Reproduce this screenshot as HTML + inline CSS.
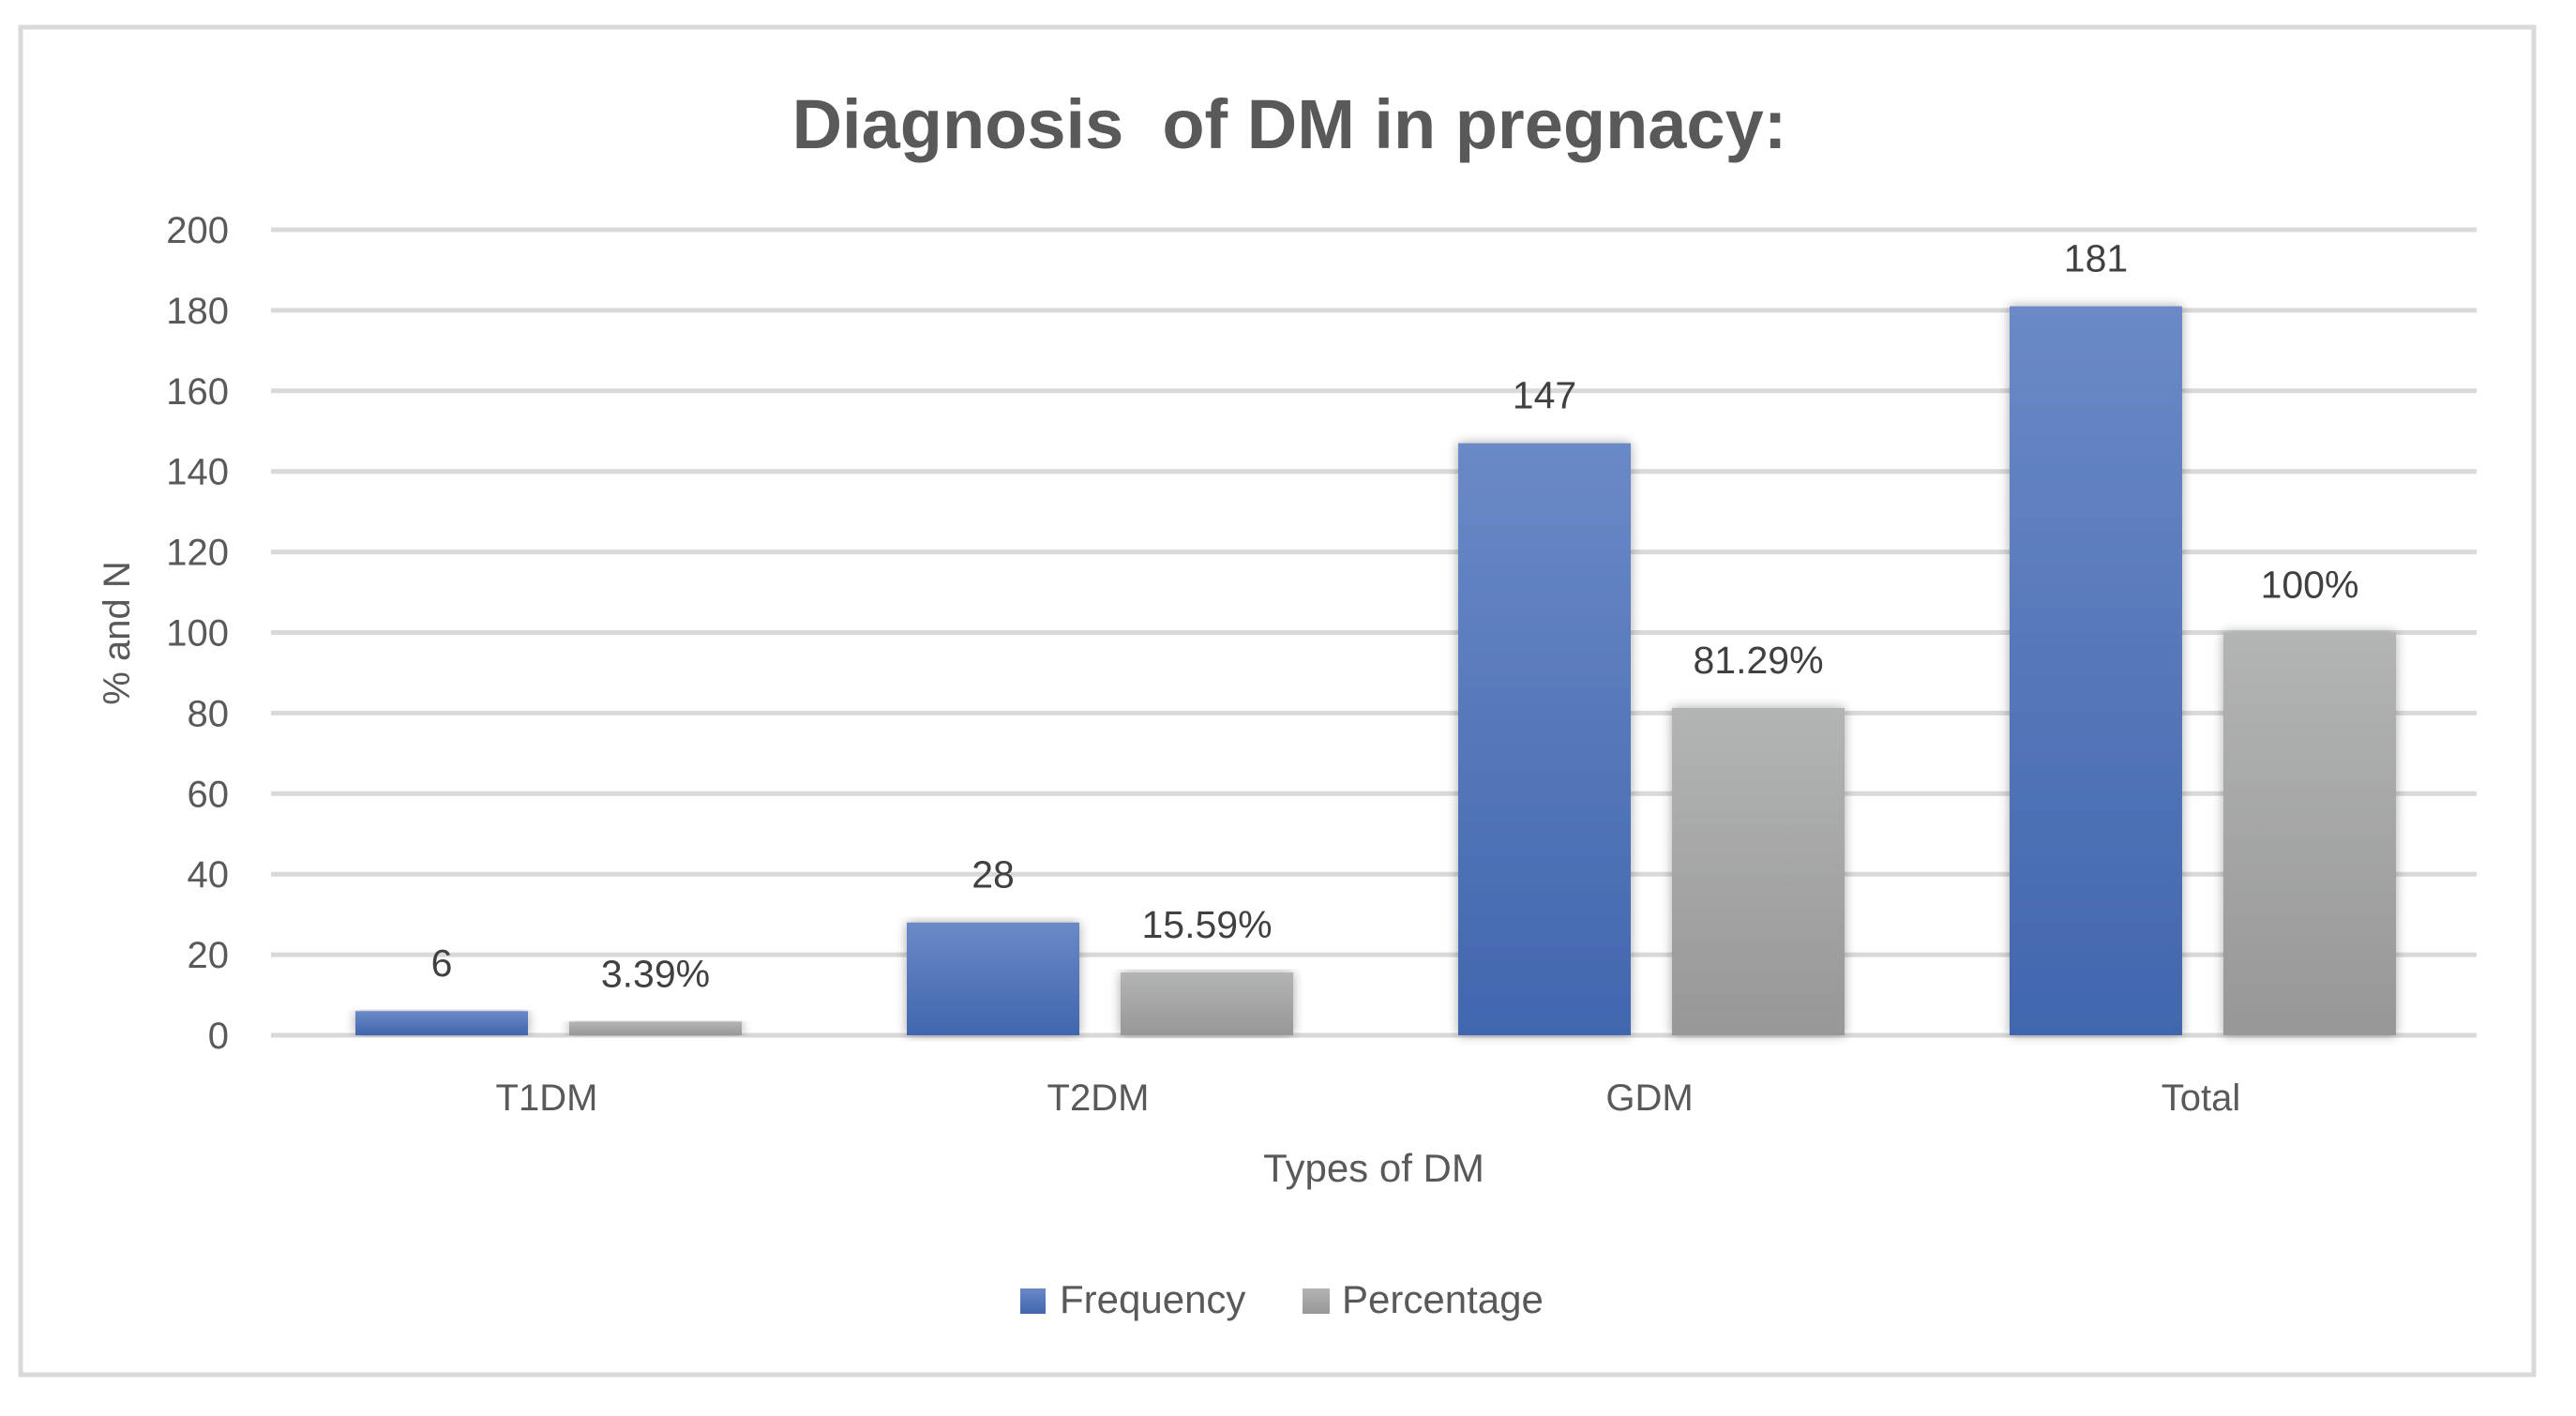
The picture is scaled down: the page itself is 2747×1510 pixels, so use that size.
<!DOCTYPE html>
<html><head><meta charset="utf-8"><style>
html,body{margin:0;padding:0;background:#fff;}
svg{display:block;font-family:"Liberation Sans",sans-serif;}
</style></head><body>
<svg id="chart" width="2747" height="1510" viewBox="0 0 2747 1510" xmlns="http://www.w3.org/2000/svg">
<defs>
<linearGradient id="gBlue" x1="0" y1="0" x2="0" y2="1"><stop offset="0" stop-color="#6a89c6"/><stop offset="1" stop-color="#4166ae"/></linearGradient>
<linearGradient id="gGray" x1="0" y1="0" x2="0" y2="1"><stop offset="0" stop-color="#b3b4b4"/><stop offset="1" stop-color="#979797"/></linearGradient>
<filter id="sh" x="-20%" y="-5%" width="140%" height="110%"><feGaussianBlur in="SourceAlpha" stdDeviation="6"/><feComponentTransfer><feFuncA type="linear" slope="0.35"/></feComponentTransfer><feMerge><feMergeNode/><feMergeNode in="SourceGraphic"/></feMerge></filter>
</defs>
<rect x="22" y="29" width="2680" height="1437" fill="#fff" stroke="#d9d9d9" stroke-width="5"/>
<text x="1375" y="158" text-anchor="middle" font-size="74" font-weight="bold" fill="#595959" xml:space="preserve">Diagnosis  of DM in pregnacy:</text>
<g id="grid"></g><g id="bars"></g><g id="labels"></g>
<text transform="translate(138,675) rotate(-90)" text-anchor="middle" font-size="40" fill="#595959">% and N</text>
<text x="1465" y="1260" text-anchor="middle" font-size="42" fill="#595959">Types of DM</text>
<g>
<rect x="1088" y="1374" width="27" height="27" fill="url(#gBlue)"/>
<text x="1130" y="1400" font-size="42" fill="#595959">Frequency</text>
<rect x="1389" y="1374" width="29" height="27" fill="url(#gGray)"/>
<text x="1431" y="1400" font-size="42" fill="#595959">Percentage</text>
</g>
</svg>
<script>
const categories = ["T1DM","T2DM","GDM","Total"];
const frequency = [6,28,147,181];
const percentage = [3.39,15.59,81.29,100];
const percentageLabels = ["3.39%","15.59%","81.29%","100%"];
const yTicks = [0,20,40,60,80,100,120,140,160,180,200];
const NS="http://www.w3.org/2000/svg";
const X0=289, X1=2641, Y0=1104, Y1=245, YMAX=200;
const catW=(X1-X0)/categories.length;
function y(v){return Y0-(v/YMAX)*(Y0-Y1);}
function xCat(i){return X0+i*catW;}
function mk(tag,attrs,parent){const e=document.createElementNS(NS,tag);for(const k in attrs)e.setAttribute(k,attrs[k]);parent.appendChild(e);return e;}
const grid=document.getElementById('grid'),bars=document.getElementById('bars'),labels=document.getElementById('labels');
yTicks.forEach(t=>{
  const l=mk('line',{x1:X0,x2:X1,y1:y(t),y2:y(t),stroke:'#d9d9d9','stroke-width':5},grid);
  
  
  const tx=mk('text',{x:244,y:y(t)+14,'text-anchor':'end','font-size':40,fill:'#595959'},grid);
  tx.textContent=t;
  
  
});
const bw=184, off=90, gap=44;
categories.forEach((c,i)=>{
  const fx=xCat(i)+off, px=fx+bw+gap;
  const b1=mk('rect',{x:fx,y:y(frequency[i]),width:bw,height:Y0-y(frequency[i]),fill:'url(#gBlue)',filter:'url(#sh)'},bars);
  
  
  const b2=mk('rect',{x:px,y:y(percentage[i]),width:bw,height:Y0-y(percentage[i]),fill:'url(#gGray)',filter:'url(#sh)'},bars);
  
  
  const t1=mk('text',{x:fx+bw/2,y:y(frequency[i])-37,'text-anchor':'middle','font-size':41,fill:'#404040'},labels);
  t1.textContent=frequency[i];
  
  
  const t2=mk('text',{x:px+bw/2,y:y(percentage[i])-37,'text-anchor':'middle','font-size':41,fill:'#404040'},labels);
  t2.textContent=percentageLabels[i];
  
  
  const cl=mk('text',{x:xCat(i)+catW/2,y:1184,'text-anchor':'middle','font-size':40,fill:'#595959'},labels);
  cl.textContent=c;
  
  
});
</script>
</body></html>
